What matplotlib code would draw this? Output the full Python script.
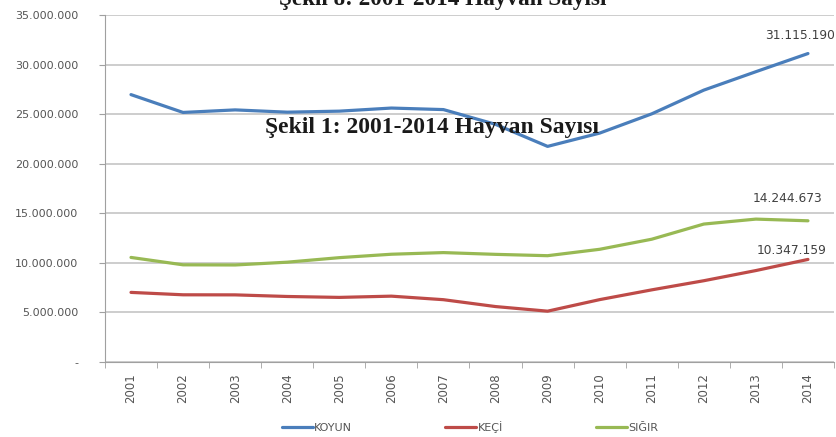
import numpy as np
import matplotlib.pyplot as plt
from matplotlib.ticker import FuncFormatter

years = [str(y) for y in range(2001, 2015)]
koyun = [26972000, 25174000, 25431000, 25201000, 25304000, 25617000, 25462000,
         23975000, 21750000, 23089691, 25031565, 27425233, 29284247, 31115190]
keci = [7022000, 6780000, 6772000, 6609937, 6517464, 6643294, 6286358,
        5593561, 5128285, 6293233, 7277953, 8199184, 9225548, 10347159]
sigir = [10548000, 9803498, 9788102, 10069346, 10526440, 10871364, 11036753,
         10859942, 10723958, 11369800, 12386337, 13914912, 14415257, 14244673]
series_names = ["KOYUN", "KEÇİ", "SIĞIR"]
colors = ["#4a7ebb", "#be4b48", "#98b954"]


def dotted(v, pos=None):
    if v == 0:
        return "-"
    return f"{int(v):,}".replace(",", ".")


fig = plt.figure(figsize=(8.37, 4.37), dpi=100)
ax = fig.add_axes([0.1254, 0.1716, 0.871, 0.794])

x = np.arange(len(years))
for vals, name, c in zip([koyun, keci, sigir], series_names, colors):
    ax.plot(x, vals, color=c, linewidth=2.3, label=name, solid_capstyle='round')

# labels on the last point (offsets in pixels, as Excel put them)
label_offsets = [(-43, 18), (-51, 9), (-55, 22)]
for vals, off in zip([koyun, keci, sigir], label_offsets):
    ax.annotate(dotted(vals[-1]), (x[-1], vals[-1]), xytext=off,
                textcoords='offset pixels', ha='left', va='center',
                fontsize=8.8, color='#404040', annotation_clip=False)

ax.set_xlim(-0.5, len(years) - 0.5)
ax.set_ylim(0, 35000000)
ax.set_yticks(np.arange(0, 35000001, 5000000))
ax.yaxis.set_major_formatter(FuncFormatter(dotted))
ax.set_xticks(x)
ax.set_xticklabels(years, rotation=90)
ax.set_xticks(np.arange(-0.5, len(years), 1), minor=True)

ax.grid(axis='y', color='#c0c0c0', linewidth=1.1)
ax.set_axisbelow(True)
for s in ['top', 'right']:
    ax.spines[s].set_visible(False)
for s in ['left', 'bottom']:
    ax.spines[s].set_color('#a0a0a0')

ax.tick_params(axis='y', colors='#a0a0a0', labelcolor='#555555', labelsize=8,
               length=4, pad=15)
ax.tick_params(axis='x', which='major', length=0, labelcolor='#555555',
               labelsize=8.5, pad=8)
ax.tick_params(axis='x', which='minor', length=4, color='#a0a0a0')

fig.legend(loc='center', bbox_to_anchor=(0.5615, 1 - 427 / 437), ncol=3,
           frameon=False, fontsize=8, labelcolor='#555555',
           handlelength=2.8, handletextpad=0.1, columnspacing=8.4)

# captions pasted over the chart
fig.text(0.529, 1 - 5 / 437, "Şekil 8: 2001-2014 Hayvan Sayısı", ha='center',
         va='baseline', fontsize=16.7, fontweight='bold',
         family='Liberation Serif', color='#1a1a1a')
fig.text(0.516, 1 - 133 / 437, "Şekil 1: 2001-2014 Hayvan Sayısı", ha='center',
         va='baseline', fontsize=17, fontweight='bold',
         family='Liberation Serif', color='#1a1a1a')

plt.savefig("out.png", dpi=100)
